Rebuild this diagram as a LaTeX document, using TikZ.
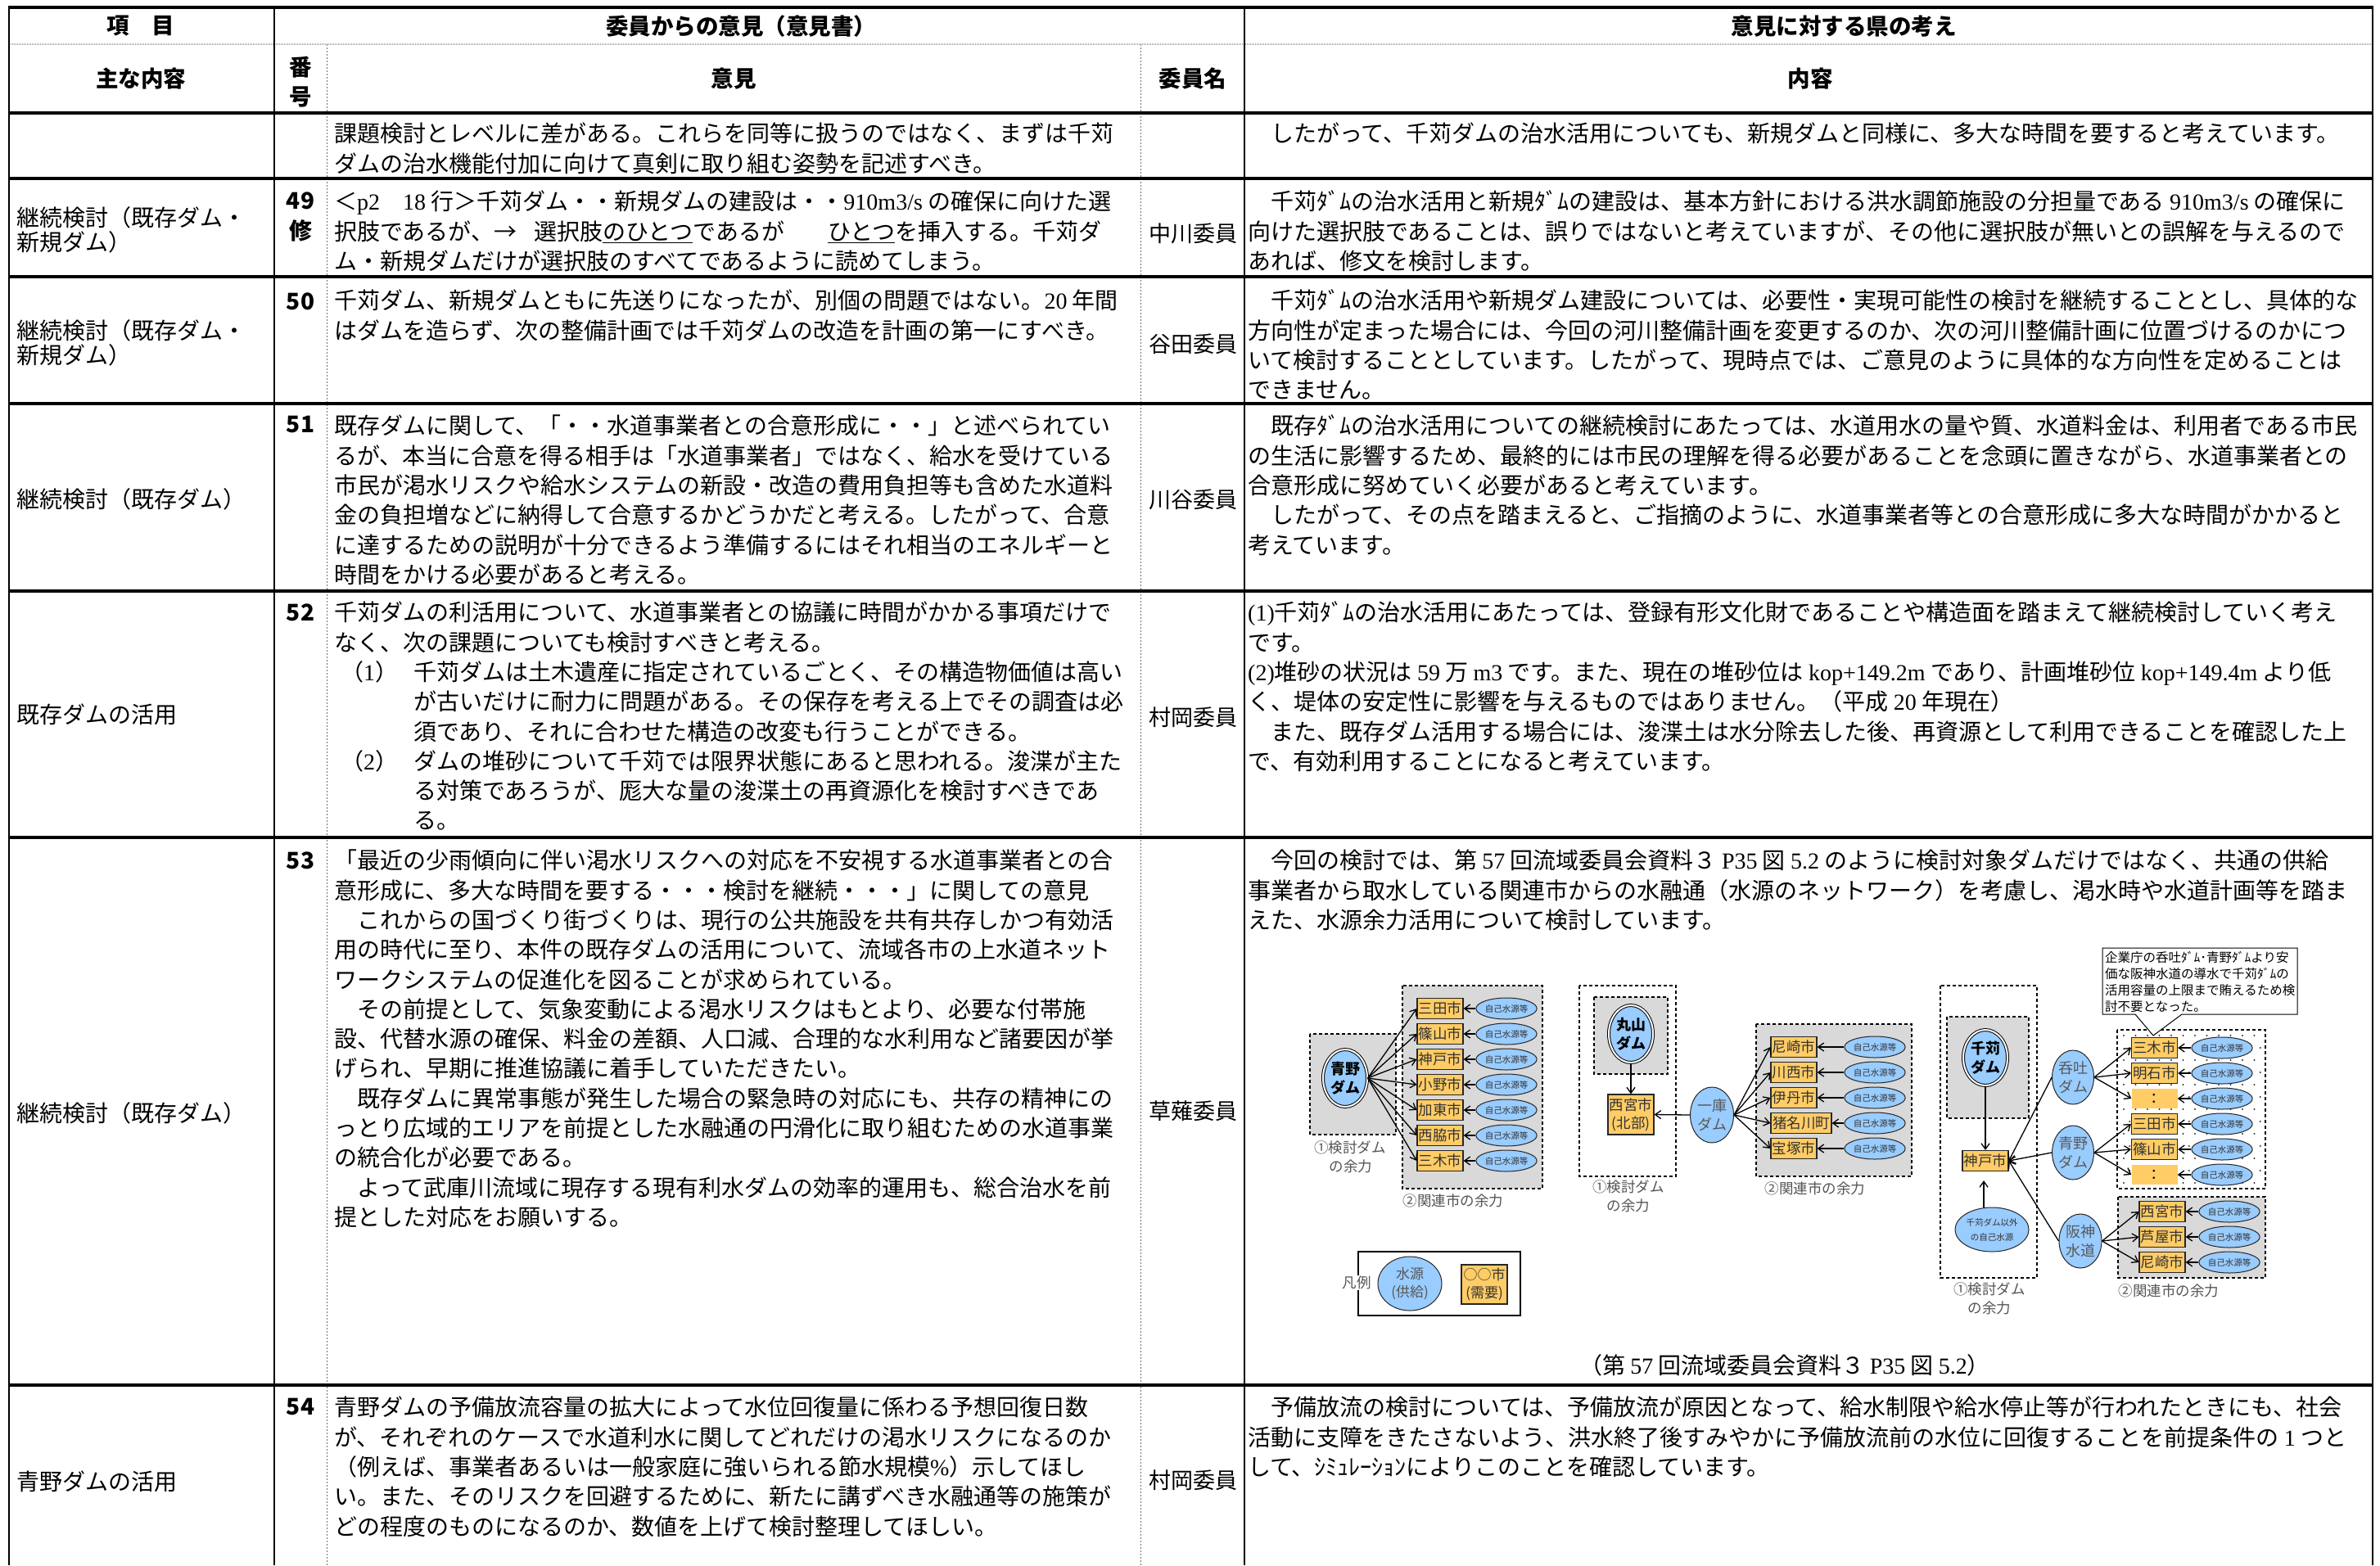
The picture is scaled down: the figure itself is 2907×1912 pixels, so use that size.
\documentclass[tikz,border=0pt]{standalone}
\usepackage{fontspec}
\setmainfont{Noto Sans CJK JP}
\newfontfamily\latfont{Liberation Serif}
\newcommand{\latn}[1]{{\latfont #1}}
\usetikzlibrary{arrows.meta,shapes.geometric}
\definecolor{orbox}{RGB}{255,204,102}
\definecolor{blueell}{RGB}{153,204,255}
\definecolor{grayreg}{RGB}{217,217,217}
\definecolor{labgray}{RGB}{85,85,85}
\definecolor{dotline}{RGB}{110,110,110}
\newcommand{\firststrut}{\rule{0pt}{0.88em}}
\begin{document}
\begin{tikzpicture}[x=1pt,y=-1pt,
  body/.style={font=\fontsize{28}{36.3}\selectfont, align=left, inner sep=0pt, anchor=north west},
  colone/.style={font=\fontsize{28}{29.5}\selectfont, align=left, inner sep=0pt, anchor=west},
  namecell/.style={font=\fontsize{27}{30}\selectfont, inner sep=0pt},
  numcell/.style={font=\bfseries\fontsize{28}{30}\selectfont, inner sep=0pt},
  hdr/.style={font=\bfseries\fontsize{27.5}{30}\selectfont, inner sep=0pt},
  hrule/.style={line width=4pt},
  vrule/.style={line width=2.5pt},
  dotrule/.style={line width=1pt, draw=dotline, dash pattern=on 2pt off 2pt},
  regbox/.style={draw=black, fill=grayreg, line width=1.2pt, dash pattern=on 4pt off 3pt},
  city/.style={draw=black!85, fill=orbox, line width=1.2pt, minimum width=56pt, minimum height=25pt, inner sep=0pt, font=\fontsize{17.5}{21}\selectfont, text=black!80, align=center},
  colonbox/.style={fill=orbox, minimum width=56pt, minimum height=24pt, inner sep=0pt, font=\fontsize{17.5}{21}\selectfont},
  selfe/.style={ellipse, draw=black!85, fill=blueell, line width=1pt, minimum width=74pt, minimum height=26pt, inner sep=0pt, font=\fontsize{10.5}{12}\selectfont, text=black!80},
  dam/.style={ellipse, draw=black!85, fill=blueell, line width=1pt, minimum width=52pt, minimum height=67pt, inner sep=0pt, align=center, font=\fontsize{18}{23}\selectfont, text=black!65},
  ddam/.style={ellipse, draw=black, double=white, double distance=2pt, line width=1pt, fill=blueell, minimum width=54pt, minimum height=70pt, inner sep=0pt, align=center, font=\bfseries\fontsize{18}{23}\selectfont},
  lab/.style={font=\fontsize{17.5}{23}\selectfont, text=labgray, inner sep=0pt},
  calltxt/.style={font=\fontsize{15.5}{20}\selectfont, align=left, inner sep=0pt, anchor=north west},
  arr/.style={-{Straight Barb[length=7pt,width=10pt]}, line width=1.3pt, black}
]
\useasboundingbox (0,0) rectangle (2907,1912);
\fill[white] (0,0) rectangle (2907,1912);

% ---------------- table rules ----------------
\draw[line width=2.5pt, draw=gray!70, dash pattern=on 1pt off 1pt] (11,54) -- (2898,54);
\draw[dotrule] (399,54) -- (399,1912);
\draw[dotrule] (1393,54) -- (1393,1912);
\foreach \yy in {9,138,218,338,493,722,1023,1692}{
  \draw[hrule] (9.75,\yy) -- (2899.25,\yy);
}
\foreach \xx in {11,335,1520,2898}{
  \draw[vrule] (\xx,9) -- (\xx,1912);
}

% ---------------- headers ----------------
\node[hdr] (h1a) at (172,32) {項　目};
\node[hdr] (h1b) at (905,32) {委員からの意見（意見書）};
\node[hdr] (h1c) at (2252,32) {意見に対する県の考え};
\node[hdr] (h2a) at (172,96) {主な内容};
\node[hdr] (h2b1) at (367,82) {番};
\node[hdr] (h2b2) at (367,118) {号};
\node[hdr] (h2c) at (896,96) {意見};
\node[hdr] (h2d) at (1457,96) {委員名};
\node[hdr] (h2e) at (2211,96) {内容};

% ---------------- row A ----------------
\node[body] (rAl) at (408,149) {\firststrut 課題検討とレベルに差がある。これらを同等に扱うのではなく、まずは千苅\\ダムの治水機能付加に向けて真剣に取り組む姿勢を記述すべき。};
\node[body] (rAr) at (1524,149) {\firststrut 　したがって、千苅ダムの治水活用についても、新規ダムと同様に、多大な時間を要すると考えています。};

% ---------------- row 49 ----------------
\node[colone] (r49c) at (20,281) {継続検討（既存ダム・\\新規ダム）};
\node[numcell] (r49n) at (367,245) {49};
\node[numcell] (r49m) at (367,282) {修};
\node[body] (r49l) at (408,232) {\firststrut ＜\latn{p2}　\latn{18} 行＞千苅ダム・・新規ダムの建設は・・\latn{910m3/s} の確保に向けた選\\択肢であるが、→\hspace*{21pt}選択肢\underline{のひとつ}であるが\hspace*{53pt}\underline{ひとつ}を挿入する。千苅ダ\\ム・新規ダムだけが選択肢のすべてであるように読めてしまう。};
\node[namecell] (r49w) at (1457,285) {中川委員};
\node[body] (r49r) at (1524,232) {\firststrut 　千苅ﾀﾞﾑの治水活用と新規ﾀﾞﾑの建設は、基本方針における洪水調節施設の分担量である \latn{910m3/s} の確保に\\向けた選択肢であることは、誤りではないと考えていますが、その他に選択肢が無いとの誤解を与えるので\\あれば、修文を検討します。};

% ---------------- row 50 ----------------
\node[colone] (r50c) at (20,419) {継続検討（既存ダム・\\新規ダム）};
\node[numcell] (r50n) at (367,368) {50};
\node[body] (r50l) at (408,353) {\firststrut 千苅ダム、新規ダムともに先送りになったが、別個の問題ではない。\latn{20} 年間\\はダムを造らず、次の整備計画では千苅ダムの改造を計画の第一にすべき。};
\node[namecell] (r50w) at (1457,420) {谷田委員};
\node[body] (r50r) at (1524,353) {\firststrut 　千苅ﾀﾞﾑの治水活用や新規ダム建設については、必要性・実現可能性の検討を継続することとし、具体的な\\方向性が定まった場合には、今回の河川整備計画を変更するのか、次の河川整備計画に位置づけるのかにつ\\いて検討することとしています。したがって、現時点では、ご意見のように具体的な方向性を定めることは\\できません。};

% ---------------- row 51 ----------------
\node[colone] (r51c) at (20,610) {継続検討（既存ダム）};
\node[numcell] (r51n) at (367,519) {51};
\node[body] (r51l) at (408,506) {\firststrut 既存ダムに関して、「・・水道事業者との合意形成に・・」と述べられてい\\るが、本当に合意を得る相手は「水道事業者」ではなく、給水を受けている\\市民が渇水リスクや給水システムの新設・改造の費用負担等も含めた水道料\\金の負担増などに納得して合意するかどうかだと考える。したがって、合意\\に達するための説明が十分できるよう準備するにはそれ相当のエネルギーと\\時間をかける必要があると考える。};
\node[namecell] (r51w) at (1457,610) {川谷委員};
\node[body] (r51r) at (1524,506) {\firststrut 　既存ﾀﾞﾑの治水活用についての継続検討にあたっては、水道用水の量や質、水道料金は、利用者である市民\\の生活に影響するため、最終的には市民の理解を得る必要があることを念頭に置きながら、水道事業者との\\合意形成に努めていく必要があると考えています。\\　したがって、その点を踏まえると、ご指摘のように、水道事業者等との合意形成に多大な時間がかかると\\考えています。};

% ---------------- row 52 ----------------
\node[colone] (r52c) at (20,873) {既存ダムの活用};
\node[numcell] (r52n) at (367,748) {52};
\node[body] (r52l) at (408,734) {\firststrut 千苅ダムの利活用について、水道事業者との協議に時間がかかる事項だけで\\なく、次の課題についても検討すべきと考える。\\\makebox[97pt][l]{\hspace*{8pt}（\latn{1}）}千苅ダムは土木遺産に指定されているごとく、その構造物価値は高い\\\hspace*{97pt}が古いだけに耐力に問題がある。その保存を考える上でその調査は必\\\hspace*{97pt}須であり、それに合わせた構造の改変も行うことができる。\\\makebox[97pt][l]{\hspace*{8pt}（\latn{2}）}ダムの堆砂について千苅では限界状態にあると思われる。浚渫が主た\\\hspace*{97pt}る対策であろうが、厖大な量の浚渫土の再資源化を検討すべきであ\\\hspace*{97pt}る。};
\node[namecell] (r52w) at (1457,876) {村岡委員};
\node[body] (r52r) at (1524,734) {\firststrut \latn{(1)}千苅ﾀﾞﾑの治水活用にあたっては、登録有形文化財であることや構造面を踏まえて継続検討していく考え\\です。\\\latn{(2)}堆砂の状況は \latn{59} 万 \latn{m3} です。また、現在の堆砂位は \latn{kop+149.2m} であり、計画堆砂位 \latn{kop+149.4m} より低\\く、堤体の安定性に影響を与えるものではありません。（平成 \latn{20} 年現在）\\　また、既存ダム活用する場合には、浚渫土は水分除去した後、再資源として利用できることを確認した上\\で、有効利用することになると考えています。};

% ---------------- row 53 ----------------
\node[colone] (r53c) at (20,1360) {継続検討（既存ダム）};
\node[numcell] (r53n) at (367,1051) {53};
\node[body] (r53l) at (408,1037) {\firststrut 「最近の少雨傾向に伴い渇水リスクへの対応を不安視する水道事業者との合\\意形成に、多大な時間を要する・・・検討を継続・・・」に関しての意見\\　これからの国づくり街づくりは、現行の公共施設を共有共存しかつ有効活\\用の時代に至り、本件の既存ダムの活用について、流域各市の上水道ネット\\ワークシステムの促進化を図ることが求められている。\\　その前提として、気象変動による渇水リスクはもとより、必要な付帯施\\設、代替水源の確保、料金の差額、人口減、合理的な水利用など諸要因が挙\\げられ、早期に推進協議に着手していただきたい。\\　既存ダムに異常事態が発生した場合の緊急時の対応にも、共存の精神にの\\っとり広域的エリアを前提とした水融通の円滑化に取り組むための水道事業\\の統合化が必要である。\\　よって武庫川流域に現存する現有利水ダムの効率的運用も、総合治水を前\\提とした対応をお願いする。};
\node[namecell] (r53w) at (1457,1357) {草薙委員};
\node[body] (r53r) at (1524,1037) {\firststrut 　今回の検討では、第 \latn{57} 回流域委員会資料３ \latn{P35} 図 \latn{5.2} のように検討対象ダムだけではなく、共通の供給\\事業者から取水している関連市からの水融通（水源のネットワーク）を考慮し、渇水時や水道計画等を踏ま\\えた、水源余力活用について検討しています。};

% ---------------- row 54 ----------------
\node[colone] (r54c) at (20,1810) {青野ダムの活用};
\node[numcell] (r54n) at (367,1719) {54};
\node[body] (r54l) at (408,1705) {\firststrut 青野ダムの予備放流容量の拡大によって水位回復量に係わる予想回復日数\\が、それぞれのケースで水道利水に関してどれだけの渇水リスクになるのか\\（例えば、事業者あるいは一般家庭に強いられる節水規模\latn{\%}）示してほし\\い。また、そのリスクを回避するために、新たに講ずべき水融通等の施策が\\どの程度のものになるのか、数値を上げて検討整理してほしい。};
\node[namecell] (r54w) at (1457,1808) {村岡委員};
\node[body] (r54r) at (1524,1705) {\firststrut 　予備放流の検討については、予備放流が原因となって、給水制限や給水停止等が行われたときにも、社会\\活動に支障をきたさないよう、洪水終了後すみやかに予備放流前の水位に回復することを前提条件の \latn{1} つと\\して、ｼﾐｭﾚｰｼｮﾝによりこのことを確認しています。};

% ================= diagram =================
% group 1
\draw[regbox] (1600,1263) rectangle (1705,1386);
\draw[regbox] (1713,1204) rectangle (1884,1452);
\node[ddam] (aonoA) at (1643,1317) {青野\\ダム};
\foreach \k/\nm/\yy in {1/三田市/1232,2/篠山市/1263,3/神戸市/1294,4/小野市/1325,5/加東市/1356,6/西脇市/1387,7/三木市/1418}{
  \node[city] (ga\k) at (1759,\yy) {\nm};
  \node[selfe] (gas\k) at (1840,\yy) {自己水源等};
  \draw[arr] (aonoA.east) -- (ga\k.west);
  \draw[arr] (gas\k.west) -- (ga\k.east);
}
\node[lab] (g1l1) at (1649,1402) {①検討ダム};
\node[lab] (g1l2) at (1650,1425) {の余力};
\node[lab] (g1l3) at (1775,1467) {②関連市の余力};

% group 2
\draw[regbox, fill=white] (1929,1204) rectangle (2047,1437);
\draw[regbox] (1947,1218) rectangle (2037,1312);
\node[ddam] (maru) at (1992,1263) {丸山\\ダム};
\node[city, minimum height=49pt, font=\fontsize{17.5}{22}\selectfont] (nishikita) at (1992,1361.5) {西宮市\\(北部)};
\node[dam, minimum width=53pt, minimum height=68pt] (hitokura) at (2091,1362) {一庫\\ダム};
\draw[arr] (maru.south) -- (nishikita.north);
\draw[arr] (hitokura.west) -- (nishikita.east);
\draw[regbox] (2145,1251) rectangle (2335,1437);
\foreach \k/\nm/\yy/\xx/\ww in {1/尼崎市/1279/2191/56,2/川西市/1310/2191/56,3/伊丹市/1341/2191/56,4/猪名川町/1372/2200/74,5/宝塚市/1403/2191/56}{
  \node[city, minimum width=\ww pt] (gb\k) at (\xx,\yy) {\nm};
  \node[selfe] (gbs\k) at (2290,\yy) {自己水源等};
  \draw[arr] (hitokura.east) -- (gb\k.west);
  \draw[arr] (gbs\k.west) -- (gb\k.east);
}
\node[lab] (g2l1) at (1989,1450) {①検討ダム};
\node[lab] (g2l2) at (1989,1473) {の余力};
\node[lab] (g2l3) at (2217,1452) {②関連市の余力};

% group 3
\draw[regbox, fill=white] (2370,1204) rectangle (2488,1561);
\draw[regbox] (2378,1242) rectangle (2478,1366);
\node[ddam, minimum height=68pt] (senga) at (2425,1292) {千苅\\ダム};
\node[city] (kobe) at (2425,1418) {神戸市};
\node[selfe, minimum width=90pt, minimum height=54pt, align=center, font=\fontsize{10.5}{18}\selectfont] (sengaigai) at (2433,1502) {千苅ダム以外\\の自己水源};
\draw[arr] (senga.south) -- (kobe.north);
\draw[arr] ([xshift=-10pt]sengaigai.north) -- ([xshift=-2pt,yshift=-11pt]kobe.south);
\node[dam, minimum width=50pt, minimum height=66pt] (donge) at (2532,1316) {呑吐\\ダム};
\node[dam, minimum width=50pt, minimum height=66pt] (aonoC) at (2532,1408) {青野\\ダム};
\node[dam, minimum width=52pt, minimum height=66pt] (hanshin) at (2541,1516) {阪神\\水道};
\draw[arr] (donge.west) -- (kobe.east);
\draw[arr] (aonoC.west) -- (kobe.east);
\draw[arr] (hanshin.west) -- (kobe.east);
% dotted region
\draw[regbox, fill=white] (2586,1258) rectangle (2767,1452);
\foreach \j in {0,...,12}{
  \foreach \i in {0,...,11}{
    \fill[black!80] ({2594+14.5*\i+7.25*mod(\j,2)},{1265+15*\j}) circle (1.1pt);
  }
}
\foreach \k/\nm/\yy in {1/三木市/1280,2/明石市/1311,4/三田市/1373,5/篠山市/1404}{
  \node[city] (gc\k) at (2631.5,\yy) {\nm};
}
\node[colonbox] (gc3) at (2631.5,1342) {：};
\node[colonbox] (gc6) at (2631.5,1435) {：};
\foreach \k/\yy in {1/1280,2/1311,3/1342,4/1373,5/1404,6/1435}{
  \node[selfe] (gcs\k) at (2714,\yy) {自己水源等};
  \draw[arr] (gcs\k.west) -- (gc\k.east);
}
\foreach \k in {1,2,3}{ \draw[arr] (donge.east) -- (gc\k.west); }
\foreach \k in {4,5,6}{ \draw[arr] (aonoC.east) -- (gc\k.west); }
% gray region
\draw[regbox] (2587,1462) rectangle (2767,1561);
\foreach \k/\nm/\yy in {1/西宮市/1480,2/芦屋市/1511,3/尼崎市/1542}{
  \node[city] (gd\k) at (2641,\yy) {\nm};
  \node[selfe] (gds\k) at (2723,\yy) {自己水源等};
  \draw[arr] (hanshin.east) -- (gd\k.west);
  \draw[arr] (gds\k.west) -- (gd\k.east);
}
\node[lab] (g3l1) at (2430,1575) {①検討ダム};
\node[lab] (g3l2) at (2430,1598) {の余力};
\node[lab] (g3l3) at (2649,1577) {②関連市の余力};

% callout
\draw[line width=1pt, fill=white] (2568,1158) -- (2806,1158) -- (2806,1239) -- (2665,1239) -- (2630,1265) -- (2608,1239) -- (2568,1239) -- cycle;
\node[calltxt] (callout) at (2571,1162) {\firststrut 企業庁の呑吐ﾀﾞﾑ･青野ﾀﾞﾑより安\\価な阪神水道の導水で千苅ﾀﾞﾑの\\活用容量の上限まで賄えるため検\\討不要となった。};

% legend
\draw[line width=1.2pt] (1659,1529) rectangle (1857,1607);
\node[dam, minimum width=78pt, minimum height=66pt, font=\fontsize{17}{22}\selectfont, text=labgray] (legw) at (1722,1568) {水源\\(供給)};
\node[city, minimum width=56pt, minimum height=48pt, font=\fontsize{17}{22}\selectfont] (legc) at (1813,1569) {○○市\\(需要)};
\node[lab, fill=white, inner sep=1pt] (legl) at (1657,1567) {凡例};

% caption
\node[font=\fontsize{28}{30}\selectfont, inner sep=0pt] (cap) at (2180,1668) {（第 \latn{57} 回流域委員会資料３ \latn{P35} 図 \latn{5.2}）};
\end{tikzpicture}
\end{document}
